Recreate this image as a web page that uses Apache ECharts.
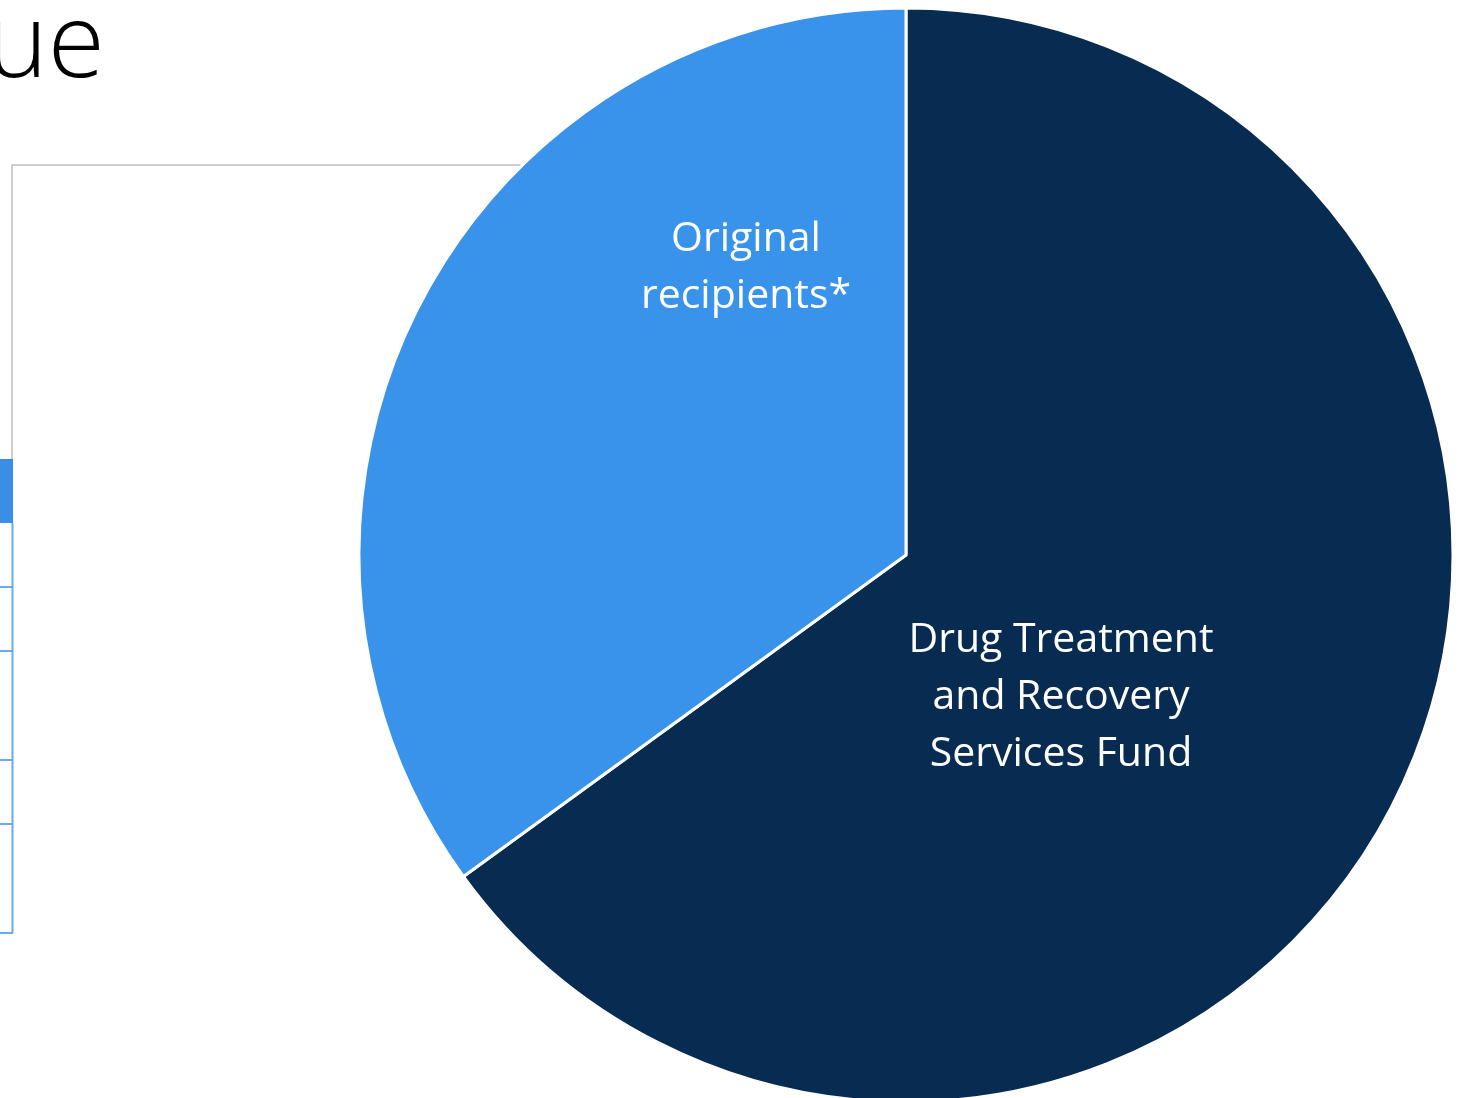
<!DOCTYPE html>
<html>
<head>
<meta charset="utf-8">
<script src="https://cdn.jsdelivr.net/npm/echarts@6/dist/echarts.min.js"></script>
<style>
html,body{margin:0;padding:0;background:#fff;}
#chart{width:1463px;height:1098px;}
</style>
</head>
<body>
<div id="chart"></div>
<script>
// Data
const categories = ['Drug Treatment\nand Recovery\nServices Fund', 'Original\nrecipients*'];
const shares = [65, 35];
const sliceColors = ['#082B52', '#3A93EA'];
const titleFragment = 'ue';
const labelCenters = [[1061, 697], [746, 268]];

const chart = echarts.init(document.getElementById('chart'), null, {renderer: 'canvas'});

const option = {
  backgroundColor: '#ffffff',
  animation: false,
  graphic: [
    // partial slide title
    {type: 'text', right: 1463 - 105, top: -5, z: 1,
     style: {text: titleFragment, font: '300 104px "Open Sans"', fill: '#000000', textAlign: 'right'}},
    // grey frame behind pie
    {type: 'polyline', z: 1, shape: {points: [[12, 460], [12, 165], [600, 165]]},
     style: {stroke: '#bfbfbf', lineWidth: 1.5, fill: null}},
    // partial table
    {type: 'rect', z: 1, shape: {x: 0, y: 459, width: 13, height: 64}, style: {fill: '#3A8EE6'}},
    {type: 'line', z: 1, shape: {x1: 12.5, y1: 523, x2: 12.5, y2: 933}, style: {stroke: '#6BAAEE', lineWidth: 2}},
    {type: 'line', z: 1, shape: {x1: 0, y1: 587, x2: 12, y2: 587}, style: {stroke: '#3A8EE6', lineWidth: 1.5}},
    {type: 'line', z: 1, shape: {x1: 0, y1: 651, x2: 12, y2: 651}, style: {stroke: '#3A8EE6', lineWidth: 1.5}},
    {type: 'line', z: 1, shape: {x1: 0, y1: 760, x2: 12, y2: 760}, style: {stroke: '#3A8EE6', lineWidth: 1.5}},
    {type: 'line', z: 1, shape: {x1: 0, y1: 824, x2: 12, y2: 824}, style: {stroke: '#3A8EE6', lineWidth: 1.5}},
    {type: 'line', z: 1, shape: {x1: 0, y1: 933, x2: 13, y2: 933}, style: {stroke: '#6BAAEE', lineWidth: 2}}
  ],
  series: [{
    type: 'pie',
    z: 5,
    center: [906, 555],
    radius: [0, 547],
    startAngle: 90,
    clockwise: true,
    avoidLabelOverlap: false,
    itemStyle: {borderColor: '#ffffff', borderWidth: 3},
    label: {
      show: true,
      position: 'inside',
      formatter: '{b}',
      color: '#ffffff',
      fontFamily: 'Open Sans',
      fontSize: 41,
      lineHeight: 57,
      align: 'center'
    },
    labelLine: {show: false},
    labelLayout: function (params) {
      const c = labelCenters[params.dataIndex];
      return {x: c[0], y: c[1], align: 'center', verticalAlign: 'middle'};
    },
    emphasis: {disabled: true},
    data: categories.map((name, i) => ({name: name, value: shares[i], itemStyle: {color: sliceColors[i]}}))
  }]
};
chart.setOption(option);
</script>
</body>
</html>
